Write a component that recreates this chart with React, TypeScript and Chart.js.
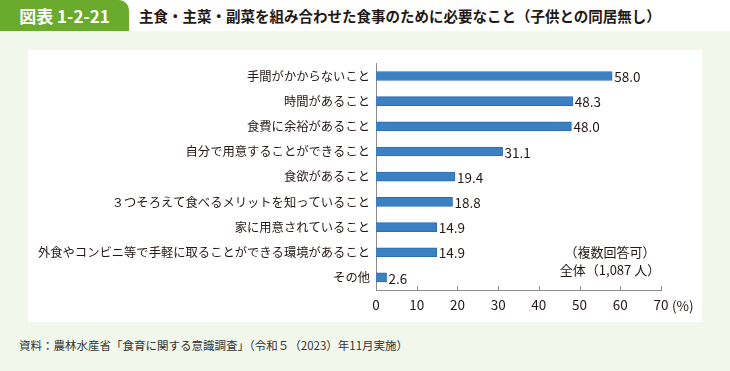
import React, { useEffect, useRef } from "react";
import { Chart, registerables } from "chart.js";

Chart.register(...registerables);

const categories: string[] = [
  "手間がかからないこと",
  "時間があること",
  "食費に余裕があること",
  "自分で用意することができること",
  "食欲があること",
  "３つそろえて食べるメリットを知っていること",
  "家に用意されていること",
  "外食やコンビニ等で手軽に取ることができる環境があること",
  "その他",
];
const values: number[] = [58.0, 48.3, 48.0, 31.1, 19.4, 18.8, 14.9, 14.9, 2.6];
const xMin = 0;
const xMax = 70;
const xStep = 10;
const titleText = "主食・主菜・副菜を組み合わせた食事のために必要なこと（子供との同居無し）";
const tabText = "図表 1-2-21";
const noteLines: string[] = ["（複数回答可）", "全体（1,087 人）"];
const unitText = "(%)";
const sourceText = "資料：農林水産省「食育に関する意識調査」（令和５（2023）年11月実施）";

const FONT = '"Noto Sans CJK JP", "Noto Sans", sans-serif';
const TEXT = "#231815";
const AXIS = "#8c8c8c";

export default function App() {
  const ref = useRef<HTMLCanvasElement | null>(null);

  useEffect(() => {
    if (!ref.current) return;
    const overlay = {
      id: "overlay",
      afterDatasetsDraw(chart: any) {
        const ctx = chart.ctx;
        const xs = chart.scales.x;
        const area = chart.chartArea;
        ctx.save();
        // inward tick marks
        ctx.strokeStyle = AXIS;
        ctx.lineWidth = 1;
        xs.ticks.forEach((t: any) => {
          const px = Math.round(xs.getPixelForValue(t.value)) + 0.5;
          ctx.beginPath();
          ctx.moveTo(px, area.bottom - 4);
          ctx.lineTo(px, area.bottom);
          ctx.stroke();
        });
        // value labels
        const meta = chart.getDatasetMeta(0);
        ctx.fillStyle = TEXT;
        ctx.font = `13.5px ${FONT}`;
        ctx.textAlign = "left";
        ctx.textBaseline = "middle";
        meta.data.forEach((el: any, i: number) => {
          ctx.fillText(values[i].toFixed(1), el.x + 2, el.y + 1);
        });
        // unit
        ctx.font = `13.5px ${FONT}`;
        ctx.fillText(unitText, area.right + 11, area.bottom + 16);
        ctx.restore();
      },
    };

    const chart = new Chart(ref.current, {
      type: "bar",
      data: {
        labels: categories,
        datasets: [
          {
            data: values,
            backgroundColor: "#3b80c3",
            borderColor: "#2b6db1",
            borderWidth: 1,
            barThickness: 9,
          },
        ],
      },
      options: {
        indexAxis: "y",
        animation: false,
        responsive: false,
        maintainAspectRatio: false,
        layout: { padding: { top: 10, right: 41, left: 0, bottom: 0 } },
        plugins: { legend: { display: false }, tooltip: { enabled: false } },
        scales: {
          x: {
            min: xMin,
            max: xMax,
            ticks: { stepSize: xStep, padding: 7, color: TEXT, font: { family: FONT, size: 13.5 } },
            grid: { display: false, drawTicks: false },
            border: { display: true, color: AXIS, width: 1 },
            afterFit: (s: any) => {
              s.height = 32;
            },
          },
          y: {
            ticks: { padding: 6, color: TEXT, autoSkip: false, font: { family: FONT, size: 12.3 } },
            grid: { display: false, drawTicks: false },
            border: { display: true, color: AXIS, width: 1 },
            afterFit: (s: any) => {
              s.width = 348;
            },
          },
        },
      } as any,
      plugins: [overlay],
    });
    return () => chart.destroy();
  }, []);

  return (
    <div
      style={{
        position: "absolute",
        left: 0,
        top: 0,
        width: 730,
        height: 371,
        overflow: "hidden",
        background: "#ffffff",
        fontFamily: FONT,
        color: TEXT,
      }}
    >
      <div
        style={{
          position: "absolute",
          left: 0,
          top: 0,
          width: 129,
          height: 31,
          background: "#6aab2d",
          borderTopRightRadius: 10,
          color: "#fff",
          fontWeight: 700,
          fontSize: 17,
          lineHeight: "31px",
          textAlign: "center",
        }}
      >
        {tabText}
      </div>
      <div
        style={{
          position: "absolute",
          left: 139,
          top: 0,
          height: 31,
          lineHeight: "31px",
          fontSize: 14.5,
          fontWeight: 700,
          whiteSpace: "nowrap",
        }}
      >
        {titleText}
      </div>
      <div
        style={{ position: "absolute", left: 0, top: 31, width: 730, height: 340, background: "#f2f7ec" }}
      />
      <div style={{ position: "absolute", left: 28, top: 50, width: 674, height: 272, background: "#fff" }}>
        <canvas ref={ref} width={674} height={272} style={{ width: 674, height: 272, display: "block" }} />
      </div>
      <div
        style={{
          position: "absolute",
          left: 540,
          top: 243,
          width: 140,
          textAlign: "center",
          fontSize: 13,
          lineHeight: "18px",
          whiteSpace: "nowrap",
        }}
      >
        {noteLines.map((l, i) => (
          <div key={i}>{l}</div>
        ))}
      </div>
      <div
        style={{
          position: "absolute",
          left: 19,
          top: 336,
          fontSize: 11.5,
          lineHeight: "18px",
          color: "#333",
          whiteSpace: "nowrap",
        }}
      >
        {sourceText}
      </div>
    </div>
  );
}
